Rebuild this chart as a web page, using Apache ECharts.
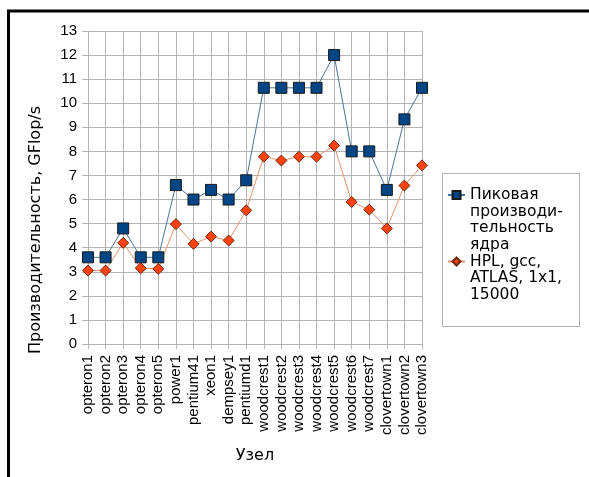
<!DOCTYPE html>
<html>
<head>
<meta charset="utf-8">
<script src="https://cdn.jsdelivr.net/npm/echarts@6/dist/echarts.min.js"></script>
<style>
html,body{margin:0;padding:0;background:#fff;}
#chart{width:589px;height:477px;}
</style>
</head>
<body>
<div id="chart"></div>
<script>
const categories = ['opteron1','opteron2','opteron3','opteron4','opteron5','power1','pentium41','xeon1','dempsey1','pentiumd1','woodcrest1','woodcrest2','woodcrest3','woodcrest4','woodcrest5','woodcrest6','woodcrest7','clovertown1','clovertown2','clovertown3'];
const peakValues = [3.6,3.6,4.8,3.6,3.6,6.6,6.0,6.4,6.0,6.8,10.64,10.64,10.64,10.64,12.0,8.0,8.0,6.4,9.33,10.64];
const hplValues = [3.05,3.05,4.2,3.15,3.12,4.98,4.16,4.46,4.3,5.55,7.78,7.62,7.78,7.78,8.24,5.9,5.58,4.8,6.58,7.42];
const seriesNames = ['Пиковая\nпроизводи-\nтельность\nядра', 'HPL, gcc,\nATLAS, 1x1,\n15000'];
const yTicks = {min: 0, max: 13, interval: 1};
const xTitle = 'Узел';
const yTitle = 'Производительность, GFlop/s';

const LH = 16.7;
const chart = echarts.init(document.getElementById('chart'));
const legendText = {fontFamily: 'DejaVu Sans', fontSize: 15.5, color: '#000', lineHeight: LH};
// pad with blank lines above so the first text line sits beside the icon
function topAligned(name) {
  const n = name.split('\n').length;
  return '\n'.repeat(n - 1) + name;
}
function legendTop(iconCenter, name) {
  const n = name.split('\n').length;
  return iconCenter - (2 * n - 1) * LH / 2;
}
chart.setOption({
  backgroundColor: '#fff',
  animation: false,
  grid: {left: 88, right: 167, top: 31, bottom: 133, containLabel: false},
  xAxis: {
    type: 'category', data: categories, boundaryGap: false,
    name: xTitle, nameLocation: 'middle', nameGap: 104,
    nameTextStyle: {fontFamily: 'DejaVu Sans', fontSize: 16, color: '#000'},
    axisLine: {lineStyle: {color: '#b3b3b3', width: 1}},
    axisTick: {show: true, length: 5, lineStyle: {color: '#b3b3b3'}},
    axisLabel: {rotate: 90, margin: 11, fontFamily: 'Liberation Sans', fontSize: 15, color: '#000', interval: 0},
    splitLine: {show: true, lineStyle: {color: '#b3b3b3', width: 1}}
  },
  yAxis: {
    type: 'value', min: yTicks.min, max: yTicks.max, interval: yTicks.interval,
    name: yTitle, nameLocation: 'middle', nameGap: 44,
    nameTextStyle: {fontFamily: 'DejaVu Sans', fontSize: 16, color: '#000', padding: [0, 85, 0, 0]},
    axisLine: {show: true, lineStyle: {color: '#b3b3b3', width: 1}},
    axisTick: {show: true, length: 6, lineStyle: {color: '#b3b3b3'}},
    axisLabel: {margin: 11, fontFamily: 'Liberation Sans', fontSize: 15, color: '#000'},
    splitLine: {show: true, lineStyle: {color: '#b3b3b3', width: 1}}
  },
  legend: [
    {
      data: [seriesNames[0]], formatter: topAligned,
      left: 447, top: legendTop(195, seriesNames[0]), padding: 0, itemWidth: 17, itemHeight: 10,
      textStyle: legendText
    },
    {
      data: [seriesNames[1]], formatter: topAligned,
      left: 447, top: legendTop(261.5, seriesNames[1]), padding: 0, itemWidth: 17, itemHeight: 10,
      textStyle: legendText
    }
  ],
  graphic: [
    {type: 'rect', shape: {x: 442.5, y: 173.5, width: 137, height: 153}, style: {fill: 'none', stroke: '#b3b3b3', lineWidth: 1}, z: -1},
    {type: 'rect', shape: {x: 8.5, y: 11, width: 700, height: 700}, style: {fill: 'none', stroke: '#000', lineWidth: 3}, z: 10}
  ],
  series: [
    {
      name: seriesNames[0], type: 'line', data: peakValues,
      symbol: 'rect', symbolSize: 11, showAllSymbol: true,
      itemStyle: {color: '#004586', borderColor: '#1a1a1a', borderWidth: 1},
      lineStyle: {color: '#46749c', width: 1}
    },
    {
      name: seriesNames[1], type: 'line', data: hplValues,
      symbol: 'diamond', symbolSize: 11, showAllSymbol: true,
      itemStyle: {color: '#ff420e', borderColor: '#6b2a14', borderWidth: 1},
      lineStyle: {color: '#e8926a', width: 1}
    }
  ]
});
</script>
</body>
</html>
